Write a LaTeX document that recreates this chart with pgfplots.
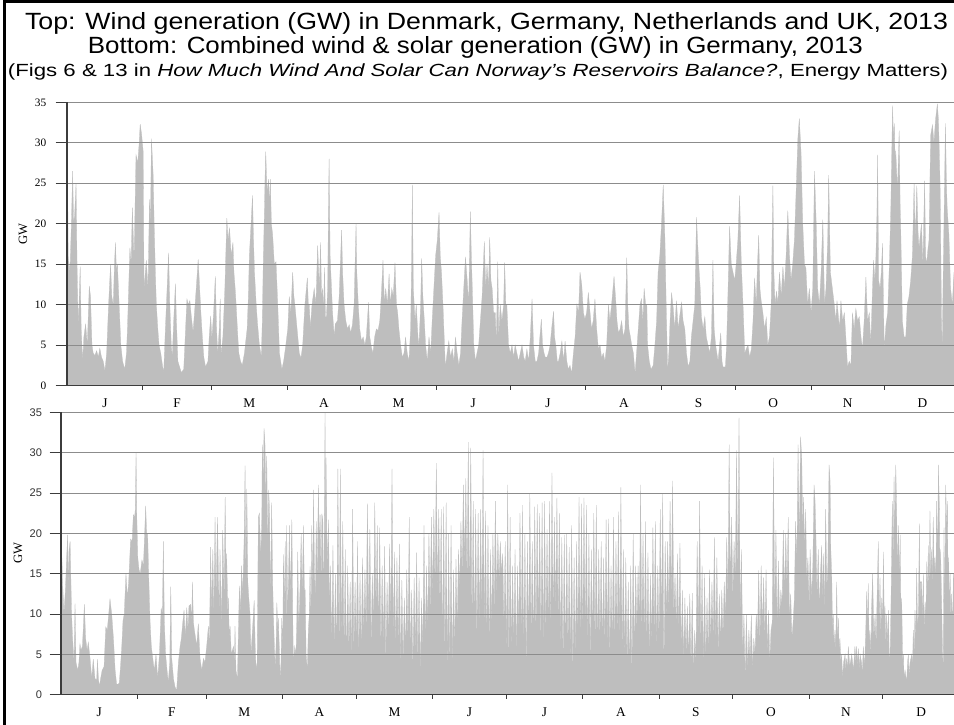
\documentclass[border=0pt]{standalone}
\usepackage{pgfplots}
\pgfplotsset{compat=1.18}
\usepackage{fontspec}
\setmainfont{Liberation Serif}
\setsansfont{Liberation Sans}
\usepackage{graphicx}

\definecolor{fillg}{RGB}{190,190,190}
\definecolor{gridg}{RGB}{140,140,140}
\definecolor{axisg}{RGB}{60,60,60}

\pgfplotsset{
  panel/.style={
    scale only axis, anchor=south west,
    xmin=0, ymin=0, ymax=35,
    axis lines*=left,
    axis line style={-, draw=axisg, line width=0.9pt},
    ytick={0,5,...,35},
    ymajorgrids,
    grid style={draw=gridg, line width=0.75pt},
    xtick={15.5,45,74.5,105,135.5,166,196.5,227.5,258,288.5,319,349.5},
    xticklabels={J,F,M,A,M,J,J,A,S,O,N,D},
    minor xtick={31,59,90,120,151,181,212,243,273,304,334},
    every major x tick/.append style={draw=none},
    tick style={draw=axisg, line width=0.75pt},
    major tick length=8.5pt,
    minor tick length=3pt,
    tick align=outside,
    axis on top,
    /pgf/number format/assume math mode=true,
    xticklabel style={font=\fontsize{10}{12}\selectfont, yshift=2pt},
    ylabel={GW},
    ylabel style={font=\fontsize{9.5}{11}\selectfont, anchor=center},
  },
}

\begin{document}
\begin{tikzpicture}
\path[use as bounding box] (0pt,0pt) rectangle (715.5pt,543.75pt);
\fill[white] (0pt,0pt) rectangle (715.5pt,543.75pt);

% ---------- top panel ----------
\begin{axis}[panel,
  at={(50.25pt,254.6pt)}, width=665.25pt, height=212.4pt,
  xmax=362.4,
  yticklabel style={font=\fontsize{8.5}{10}\selectfont, xshift=-3.5pt},
  ylabel style={at={(axis description cs:-0.0496,0.535)}},
]
\addplot[fill=fillg, draw=fillg, line width=0.2pt] coordinates {
(0,15)(0.3,23.5)(0.5,16)(1.2,14)(1.8,20)(2.3,26.5)(2.7,20)(3.1,21)(3.7,25)(4.1,15)(4.6,7)(5,11)(5.4,14.7)(5.8,7)(6.4,3)(6.9,6)(7.6,7.6)(8.3,5)(9.1,12.3)(9.6,11)(10.2,5)(10.7,4)(11.4,3.7)(12.1,4.3)(12.8,3.5)(13.4,4.6)(14.1,3.5)(14.8,3)(15.5,1.8)(16.2,4)(17,10)(17.8,15)(18.3,11)(18.9,10)(19.4,15)(19.8,17.7)(20.2,14)(20.6,15)(21.3,10)(22,5)(22.7,3)(23.6,2)(24.3,4)(24.7,7)(25.7,17)(26.2,15)(26.7,22)(27.4,15.5)(27.8,22)(28.2,28.5)(28.9,27.5)(29.5,30)(29.9,32.3)(30.5,31)(31.1,29)(31.5,11.5)(32,14)(32.4,15.5)(33.1,12)(33.7,23)(34.1,20)(34.5,30.5)(34.9,28)(35.2,26)(35.6,20)(36.1,14)(36.5,10)(37.1,7)(37.6,5)(38.3,4)(39,2.5)(39.5,1.5)(40.2,7)(40.9,12)(41.5,16.4)(42,10)(42.6,5)(43,3.5)(43.6,8)(44.3,12.6)(44.7,8)(45.3,3)(46,2.3)(46.7,1.6)(47.7,2)(48.3,6)(49,10.7)(49.6,10)(50.2,10.5)(50.8,8.5)(51.5,6.6)(52.1,9)(52.8,12)(53.6,15.6)(54.2,12)(54.7,9)(55.3,6)(55.9,3.5)(56.6,2.3)(57.6,3)(58.1,6)(58.7,8.6)(59.2,5.8)(59.9,9)(60.6,13.5)(61.1,7)(61.6,3.8)(62.2,7)(62.6,10.7)(62.9,3.8)(63.7,6)(64.5,12)(65.3,20.7)(65.8,18)(66.4,19.5)(67.1,16)(67.8,17.7)(68.2,14)(68.7,12)(69.1,10)(69.7,6.5)(70.2,4)(70.9,3)(71.6,2.5)(72.5,4)(73.6,7)(74.1,11)(74.5,16)(75.2,20)(75.8,23.5)(76.2,18)(76.6,14)(77.3,10)(77.8,7.8)(78.6,5)(79.4,3.5)(79.8,8)(80.2,15.5)(80.7,22)(80.9,25.5)(81.2,28.9)(81.7,24)(82.4,25.5)(82.7,22)(83.1,25.5)(83.5,20)(84,18.7)(84.7,15)(85.4,15.3)(86.1,10)(86.8,4)(87.8,2)(88.5,3)(89.2,4.5)(90.2,7)(90.8,11)(91.5,9)(92.2,14)(92.7,11)(93.1,10)(94,7)(94.9,4)(95.6,3.4)(96.3,5)(97.2,10)(97.8,12)(98.2,13.3)(98.6,10)(99,10)(99.4,7)(100.1,10)(101,12)(101.7,10)(102.4,17.3)(103.1,12)(103.6,17.7)(104,11)(104.4,12)(104.8,9)(105.2,14.6)(105.6,8.5)(106,8.5)(106.5,12)(106.9,24)(107.1,28)(107.5,16)(108.5,9)(109.2,6)(109.6,7.6)(110.5,8)(111.2,11)(112.2,19.2)(112.6,14)(113.2,10)(113.9,8)(114.6,7)(115.3,7.5)(115.9,6.5)(116.6,7.5)(117.3,10)(118.1,20)(118.4,14)(119,10)(119.6,7)(120.3,5.5)(121,6)(121.7,5)(122.3,6)(123.2,10.3)(123.7,6)(124.4,4.7)(125,4)(125.7,6)(126.4,7)(127.1,6.8)(127.8,8)(128.4,11)(129.1,15.5)(129.7,10)(130.2,12)(130.9,10)(131.6,13.8)(132.1,10)(132.7,12)(133.3,11)(134,15.2)(134.6,10)(135.1,9)(135.6,7)(136.3,5)(137,3.5)(137.7,4)(138.3,6)(139,4)(139.7,3)(140.4,7)(140.8,15)(141.1,24.8)(141.5,12)(142.2,8)(142.7,10)(143.4,6)(143.8,5)(144.5,10)(144.9,15.7)(145.4,11)(146,8)(146.5,5)(147.2,3)(147.9,6)(148.6,4)(149.2,8)(149.9,12)(150.6,16)(151.3,18)(152,21.4)(152.5,16)(153,14)(153.6,10)(154.1,6)(154.6,2.2)(155.3,4)(156,5.5)(156.7,3.5)(157.4,4.5)(158.1,3)(158.7,6)(159.4,4)(160.1,2.5)(160.8,4)(161.4,8)(162.1,12)(162.8,15.9)(163.5,13)(164.1,10)(164.8,21.5)(165.2,16)(165.5,13)(166.2,5)(166.9,3)(167.5,4)(168.2,5)(168.9,8)(169.6,11)(170.5,17.8)(171.1,12)(171.6,15)(172.2,12)(172.7,18.3)(173.2,13)(173.7,12)(174.3,9)(175,9)(175.4,5)(176,15.3)(176.4,6)(177,10)(177.7,8)(178.4,10)(178.8,15.2)(179.3,10)(179.7,10)(180.4,5)(181.1,4)(181.8,5)(182.5,3.5)(183.1,5)(183.8,4)(184.5,3)(185.2,4)(185.9,5)(186.6,3.5)(187.2,3)(187.9,4.5)(188.6,3)(189.3,6)(190,10.7)(190.6,5)(191.3,3)(192,3)(192.7,4)(193.2,6)(193.8,8.2)(194.3,5)(194.9,4)(195.4,3.5)(196.1,3.5)(196.7,4)(197.4,5)(198,7)(198.8,9.2)(199.2,6)(199.7,5)(200.3,3)(200.8,3)(201.5,4)(202.2,5.5)(202.9,3)(203.5,5.5)(204.2,3)(204.8,2)(205.5,2.5)(206.2,1.5)(206.9,4)(207.6,6)(208.3,10)(209,9)(209.6,14)(210.3,12.5)(211,9)(211.6,8.2)(212.3,9)(213,11.5)(213.7,9)(214.3,7)(215,8)(215.7,10.7)(216.4,7)(217.1,4.5)(217.8,5)(218.4,3.4)(219.1,4)(219.8,3)(220.5,5)(221.2,10)(221.8,8)(222.5,10)(223.5,13.5)(224.2,10.5)(224.7,8)(225.3,6.5)(226,7)(226.6,8)(227.3,6)(228,7)(228.7,15.8)(229.1,10)(229.6,7)(230.2,6)(230.7,5)(231.4,4)(232.1,1.5)(232.7,4)(233.4,7)(234.1,10)(234.7,10.7)(235.3,8)(235.8,12)(236.4,10)(236.9,10)(237.2,5)(237.9,3)(238.6,2)(239.5,2.5)(240.2,5)(240.9,8)(241.5,14)(242.2,16)(242.9,20)(243.6,24.8)(244.3,18)(244.8,10)(245.4,1.7)(245.9,4)(246.4,8)(247,11.5)(247.7,9.5)(248.3,7)(249,10.5)(249.7,7)(250.3,8.5)(251.1,10.3)(251.7,8)(252.4,7)(253.1,4)(253.8,2.3)(254.5,3)(255.1,6)(255.8,8)(256.5,10)(257.2,20.8)(257.6,18)(258.1,15)(258.7,12)(259.2,8.5)(259.9,7)(260.6,8.5)(261.2,6)(261.9,5)(262.6,4)(263.3,6)(263.9,15.5)(264.4,7)(265,5)(266,3)(267.1,6.5)(267.6,3)(268,2.3)(269,2.3)(269.5,5)(270.1,12)(270.7,19.7)(271.4,15)(272.1,14)(272.8,13)(273.4,15)(274.1,18)(274.8,23.5)(275.5,15)(276.2,10)(276.9,4)(277.5,4.5)(278.2,5)(278.9,3.5)(279.6,4.5)(280.3,8)(280.9,13.3)(281.6,10)(282,14)(282.6,18.6)(283.1,12)(283.6,10.5)(284.3,9)(285,7)(285.7,8.4)(286.3,5)(287,6)(287.7,10)(288.4,24.7)(288.8,14)(289.3,10)(289.9,11.7)(290.4,10)(291.1,14)(291.8,11)(292.5,14.7)(293.1,12)(293.8,16)(294.5,21.6)(295.2,16)(295.8,13)(296.5,15)(297.2,18)(297.9,24)(298.6,30.5)(299.2,33)(299.9,28.8)(300.6,20)(301.3,15)(301.9,14.5)(302.6,10)(303.3,12)(304,9)(304.7,12)(305.4,26.5)(306.1,20)(306.7,12)(307.4,10)(308.1,14)(308.8,20.5)(309.5,10)(310.1,12)(310.8,18)(311.2,26)(311.9,14)(312.7,12)(313.5,10)(314.1,8)(314.6,10.5)(315.6,7)(316.2,10.5)(316.9,8)(317.6,9)(318.2,6)(318.9,2.3)(319.6,3)(320.3,2.5)(320.9,9)(321.6,7)(322.3,9.5)(323,8)(323.7,8.5)(324.4,6)(325,4.5)(325.7,8)(326.4,13.4)(327.1,8)(327.8,9)(328.4,5)(329.1,12)(329.5,15.5)(330.1,13)(330.5,16)(330.9,21)(331.2,28.5)(331.6,13)(332.2,12)(332.7,14)(333.2,17.6)(333.6,10)(333.9,4.5)(334.6,7.5)(335.3,9)(336,15)(336.6,22)(337.3,34.6)(337.7,30)(338,32.4)(338.4,27)(338.6,29)(339.3,24)(340,31.5)(340.4,22)(340.6,20)(341.3,8)(342,6)(342.7,6)(343.3,10)(344,11)(344.7,13)(345.4,16)(346.1,25)(346.6,18)(347.2,24.7)(347.7,19)(348.1,17)(349.1,20)(349.7,15)(350.4,25.3)(350.8,16)(351.2,15)(351.8,17)(352.2,18)(352.6,26)(352.9,31)(353.6,32.2)(354.2,30)(354.9,33)(355.6,34.8)(356,33)(356.3,30)(356.7,25)(356.9,20)(357.3,8)(357.6,4)(357.9,12)(358.3,20)(358.9,32.4)(359.3,25)(359.6,22)(360.3,18.7)(361,12)(361.7,10)(362.4,14)
} \closedcycle;
\end{axis}

% ---------- bottom panel ----------
\begin{axis}[panel,
  at={(45.75pt,22.7pt)}, width=669.75pt, height=211.8pt,
  xmax=362.86,
  yticklabel style={font=\sffamily\fontsize{8.3}{10}\selectfont, text=black!80, xshift=-2.25pt},
  ylabel style={at={(axis description cs:-0.0482,0.502)}},
]
\addplot[fill=fillg, draw=fillg, line width=0.2pt] coordinates {
(0,12)(0.3,17.5)(0.7,13.5)(1.2,10)(1.8,13)(2.3,17)(2.7,19.8)(3,13)(3.3,18)(3.7,19)(4.1,13)(4.3,10)(4.7,7)(5.3,4)(5.7,11.3)(6.1,4)(6.8,3)(7.3,4)(7.7,6.3)(8.1,5.5)(8.7,6)(9.1,8.5)(9.5,11.2)(10,7)(10.6,5.5)(11.1,6.5)(11.8,4.5)(12.5,2)(13.1,4.4)(13.8,2)(14.5,1.8)(14.8,4.4)(15.2,2)(15.6,1)(16.1,2)(16.7,3)(17.5,3.5)(18.2,8.4)(18.8,8)(19.4,10)(19.9,11.9)(20.6,10)(21.3,7)(22,3)(22.6,1.3)(23.3,1.3)(23.7,1.5)(24.3,4)(24.7,6)(25.2,9.2)(25.7,10)(26.4,15)(27,12)(27.5,14)(28.3,19.3)(28.9,19)(29.4,22.3)(29.9,22)(30.2,23)(30.5,30)(30.8,22)(31.2,17)(31.7,15.5)(32.2,15)(32.9,16.7)(33.5,16)(34,20)(34.4,23.4)(34.8,20)(35.2,20)(35.6,15)(36.2,9)(36.7,6)(37.3,4.5)(37.9,3)(38.6,5)(39.3,2)(40,5)(40.7,10.7)(41.2,10)(41.6,19)(42,9)(42.5,5)(43.1,3)(43.6,1.5)(44.2,4)(44.6,13.4)(45,4.5)(45.7,2)(46.3,1)(47,0.5)(47.7,4)(48.4,6)(48.9,7)(49.5,9)(50,10.5)(50.5,7)(51.1,10.8)(51.6,8)(52,11)(52.7,11.2)(53.1,9)(53.4,14)(53.8,9)(54.2,8)(54.7,7)(55.1,6)(55.8,8.8)(56.5,4.5)(57.2,3)(57.9,4.5)(58.5,4)(59.2,6)(59.9,8.5)(60.3,6)(60.8,18.3)(61.2,10)(61.7,18)(62.1,9)(62.6,22)(63,12)(63.6,22)(64,14)(64.4,10)(64.6,18)(65,13)(65.3,8)(65.7,20.4)(66.3,12)(66.7,24.5)(67.1,14)(67.3,17.5)(67.8,10)(68,12)(68.4,7)(68.7,8.5)(69.2,5)(70.1,6)(70.5,4)(70.7,8.5)(71.1,3)(71.7,2)(72.1,8)(72.5,13.5)(72.9,10)(73.4,16)(73.8,12)(74.4,19)(74.8,28.4)(75.1,15)(75.5,25.5)(75.9,14)(76.3,12)(76.8,10)(77.2,5)(77.8,8)(78.5,11.7)(78.9,6)(79.3,3)(79.7,4)(80.2,22)(80.6,22.5)(81.2,17)(81.6,22)(81.8,31)(82.2,26)(82.5,33)(82.9,30.9)(83.2,24)(83.6,29.6)(84,18)(84.4,25.4)(84.7,23)(85,16)(85.2,12.5)(85.6,23.8)(86,14)(86.3,10)(86.7,6)(87,3.5)(87.4,6)(87.7,11.4)(88.1,8)(88.3,9.5)(88.8,5)(89,2)(89.4,4)(89.7,9.5)(90.1,6)(90.4,17.4)(90.8,10)(91.1,19)(91.5,8)(91.7,21)(92.1,10)(92.5,15)(92.8,21)(93.2,12)(93.8,21.7)(94.2,9)(94.4,4)(95,6)(95.5,5)(95.8,9)(96.2,17.7)(96.6,8)(97.2,14)(97.6,20)(98,12)(98.5,21)(98.9,13)(99.2,13)(99.6,5)(100.1,3)(100.5,8)(100.9,10)(101.2,15.9)(101.6,9)(101.9,21)(102.3,12)(102.6,25.4)(103,15)(103.4,12)(103.7,21.5)(104.1,14)(104.6,26)(105,18)(105.3,22.3)(105.7,14)(106,22.4)(106.4,21.7)(106.6,12)(106.9,17)(107.3,34.9)(107.6,10)(107.7,29.4)(108.1,16)(108.7,21.7)(109.1,10)(109.5,16)
(110,6)(110.5,18.5)(111,5)(111.5,15)(112,4)(112.5,28)(113,5)(113.5,28)(114,6)(114.5,21.5)(115,5)(115.5,18)(116,3)(116.5,16)(117,5)(117.5,14)(118,4)(118.5,23)(119,5)(119.5,14)(120,6)(120.5,19)(121,4)(121.5,15)(122,5)(122.5,17)(123,7)(123.5,15.5)(124,8)(124.5,23.7)(125,9)(125.5,20.5)(126,6)(126.5,15)(127,8)(127.5,23.8)(128,10)(128.5,21)(129,7)(129.5,20.7)(130,5)(130.5,16)(131,6)(131.5,18.4)(132,4)(132.5,14)(133,7)(133.5,18.7)(134,8)(134.5,28)(135,6)(135.5,17.7)(136,5)(136.5,17)(137,6)(137.5,18.7)(138,3)(138.5,14.2)(139,4)(139.5,12)(140,5)(140.5,15.5)(141,6)(141.5,22)(142,4)(142.5,13)(143,3)(143.5,14.5)(144,5)(144.5,17.6)(145,4)(145.5,14.5)(146,2)(146.5,12)(147,5)(147.5,21)(148,6)(148.5,16)(149,8)(149.5,20)
(150,10)(150.5,22)(151,12)(151.5,23)(152,13)(152.5,28.7)(153,12)(153.5,23)(154,10)(154.5,23)(155,5)(155.5,23.3)(156,4)(156.5,23.8)(157,2)(157.5,20)(158,3)(158.5,21)(159,2.5)(159.5,15.5)(160,5)(160.5,16.8)(161,8)(161.5,18)(162,13)(162.5,21.5)(163,15)(163.5,26)(164,16)(164.5,26.8)(165,13)(165.5,31.3)(166,10)(166.5,30.6)(167,8)(167.5,24)(168,7)(168.5,23)(169,6)(169.5,22.5)(170,8)(170.5,23)(171,9)(171.5,30.3)(172,7)(172.5,22.8)(173,6)(173.5,21)(174,5)(174.5,18)(175,8)(175.5,20)(176,10)(176.5,24)(177,12)(177.5,20)(178,14)(178.5,19)(179,15)(179.5,17.5)(180,8)(180.5,19)(181,4)(181.5,26)(182,3)(182.5,22)(183,5)(183.5,16)(184,6)(184.5,18)(185,4)(185.5,16)(186,7)(186.5,22.5)(187,6)(187.5,23.5)(188,5)(188.5,20)(189,3)(189.5,19)(190,6)(190.5,25)(191,7)(191.5,19)(192,5)(192.5,23.3)(193,6)(193.5,23.6)(194,8)(194.5,22.5)(195,6)(195.5,23.8)(196,5)(196.5,24)(197,7)(197.5,20.5)(198,8)(198.5,24)(199,6)(199.5,27.5)
(200,9)(200.5,22)(201,10)(201.5,24.4)(202,9)(202.5,22.5)(203,5)(203.5,19.5)(204,3)(204.5,19.8)(205,4)(205.5,20)(206,5)(206.5,18.3)(207,3)(207.5,21)(208,2)(208.5,17)(209,4)(209.5,19)(210,6)(210.5,24.5)(211,5)(211.5,23.7)(212,6)(212.5,24.4)(213,7)(213.5,23.5)(214,5)(214.5,20)(215,4)(215.5,18)(216,6)(216.5,22.5)(217,5)(217.5,23.5)(218,4)(218.5,18)(219,6)(219.5,19)(220,5)(220.5,17)(221,6)(221.5,21.7)(222,5)(222.5,21.8)(223,4)(223.5,16)(224,6)(224.5,22)(225,5)(225.5,19)(226,7)(226.5,22.7)(227,6)(227.5,25.7)(228,5)(228.5,18)(229,4)(229.5,17)(230,3)(230.5,14)(231,2)(231.5,16)(232,1.5)(232.5,20)(233,4)(233.5,16)(234,8)(234.5,16)(235,9)(235.5,26)(236,7)(236.5,20)(237,6)(237.5,21.5)(238,5)(238.5,17.6)(239,4)(239.5,15)(240,6)(240.5,20.7)(241,7)(241.5,21.5)(242,5)(242.5,16)(243,6)(243.5,23)(244,8)(244.5,25)(245,2)(245.5,19)(246,9)(246.5,19)(247,10)(247.5,24)(248,11)(248.5,26.5)(249,10)(249.5,15)
(250,8)(250.5,17.5)(251,7)(251.5,18.8)(252,5)(252.5,13)(253,4)(253.5,12)(254,5)(254.5,11)(255,4)(255.5,12.5)(256,3)(256.5,12.6)(257,2)(257.5,8)(258,4)(258.5,19)(259,7)(259.5,24)(260,6)(260.5,16)(261,3)(261.5,15)(262,4)(262.5,12)(263,5)(263.5,15.5)(264,6)(264.5,14)(265,7)(265.5,19.5)(266,6)(266.5,17)(267,5)(267.5,12.5)(268,6)(268.5,13)(269,7)(269.5,14)(270,9)(270.5,19.5)(271,12)(271.5,31)(272,13)(272.5,22)(273,12)(273.5,19)(274,14)(274.5,30.3)(275,13)(275.5,34.3)(276,9)(276.5,18)(277,5)(277.5,10)(278,2)(278.5,10)(279,3)(279.5,8)(280,4)(280.5,10)(281,3)(281.5,7)(282,5)(282.5,10)(283,7)(283.5,15.4)(284,6)(284.5,16)(285,8)(285.5,14.5)(286,7)(286.5,15.5)(287,5)(287.5,10.5)(288,4)(288.5,8)(289,9)(289.5,29.4)(290,10)(290.5,20.4)(291,8)(291.5,16.6)(292,9)(292.5,13)(293,11)(293.5,20.4)(294,12)(294.5,20)(295,13)(295.5,22)(296,9)(296.5,12.5)(297,7)(297.5,9)(298,12)(298.5,21.5)(299,16)(299.5,31)(300,18)(300.5,32)
(301,29.3)(301.4,20)(301.7,24.5)(302.2,18)(302.6,23)(303,14)(303.5,17)(304,11)(304.4,18)(305,12)(305.5,16)(306,26)(306.4,24)(306.8,19)(307.2,12)(307.7,18)(308.2,10)(308.6,15)(309.1,18.5)(309.5,11)(309.8,17.5)(310.2,10)(310.7,23)(311.2,13)(311.6,16)(312.1,28.5)(312.5,26.5)(312.8,18)(313.2,14.5)(313.5,8)(313.8,10)(314.1,6)(314.5,8)(314.8,5)(315.2,14)(315.5,6)(315.9,9.5)(316.2,5)(316.5,7)(316.9,4)(317.2,5)(317.6,2)(318,4)(318.6,5)(318.9,3)(319.2,4.5)(319.6,3)(319.9,6)(320.5,3.5)(321.3,5)(322,3)(322.6,6)(323,4)(323.3,6)(323.7,3.5)(324,5.7)(324.4,3)(324.7,5)(325.3,4)(325.6,2.5)(326,6)(326.4,3.5)(326.7,5)(327,8)(327.4,12.8)(327.7,7)(328,13.8)(328.4,6)(328.7,8)(329.1,5)(329.4,11)(329.8,15)(330.3,7)(330.8,10)(331.2,6)(331.6,12)(332.1,19)(332.4,9)(332.8,14.5)(333.1,7)(333.5,12)(333.8,8)(334.2,17.7)(334.5,9)(334.8,11)(335.2,6)(335.5,10)(335.9,6)(336.2,10.5)(336.6,4)(336.9,5)(337.3,12)(337.8,24)(338.1,16)(338.5,27)(338.8,20)(339.2,28.5)(339.6,22)(339.9,15)(340.3,21)(340.6,14)(341,19.8)(341.3,10)(341.6,12)(342,4)(342.3,5)(342.6,2)(343,3)(343.6,1.5)(344,4)(344.3,5)(344.6,2.5)(345,4)(345.7,5)(346,3)(346.3,8)(346.7,5)(347,10.5)(347.4,7)(347.7,15.7)(348,8)(348.4,10)(348.8,21.2)(349.1,10)(349.3,14)(349.7,14)(350,9)(350.4,15)(350.7,8)(351.1,11.5)(351.4,9)(351.8,16.5)(352.1,11)(352.4,18.5)(352.7,12)(353.1,22.8)(353.4,14)(353.8,18)(354.1,13)(354.4,22)(354.8,15)(355.1,17)(355.5,14)(355.8,24)(356.2,16)(356.5,28.5)(356.9,23.5)(357.2,14)(357.4,18)(357.8,12)(358.2,5)(358.5,3.5)(358.8,20.7)(359,10)(359.2,15)(359.5,26)(359.9,20)(360.2,24)(360.5,12)(360.7,17)(361,10)(361.3,15)(361.6,9)(361.9,12.5)(362.3,8)(362.6,15)(363,13)
} \closedcycle;
\end{axis}

% ---------- titles ----------
\node[anchor=base, inner sep=0pt] at (364.9pt,521.5pt)
  {\resizebox{692.25pt}{\height}{\sffamily\fontsize{17.6}{20}\selectfont Top: Wind generation (GW) in Denmark, Germany, Netherlands and UK, 2013}};
\node[anchor=base, inner sep=0pt] at (356.6pt,503.3pt)
  {\resizebox{581.25pt}{\height}{\sffamily\fontsize{17.6}{20}\selectfont Bottom: Combined wind \& solar generation (GW) in Germany, 2013}};
\node[anchor=base, inner sep=0pt] at (358.5pt,486.2pt)
  {\resizebox{705pt}{\height}{\sffamily\fontsize{13.2}{15}\selectfont (Figs 6 \& 13 in \textit{How Much Wind And Solar Can Norway’s Reservoirs Balance?}, Energy Matters)}};

% ---------- outer frame (left and top edges) ----------
\fill[black] (2.25pt,0pt) rectangle (4.5pt,543.75pt);
\fill[black] (2.25pt,541.5pt) rectangle (715.5pt,543.75pt);
\end{tikzpicture}
\end{document}
